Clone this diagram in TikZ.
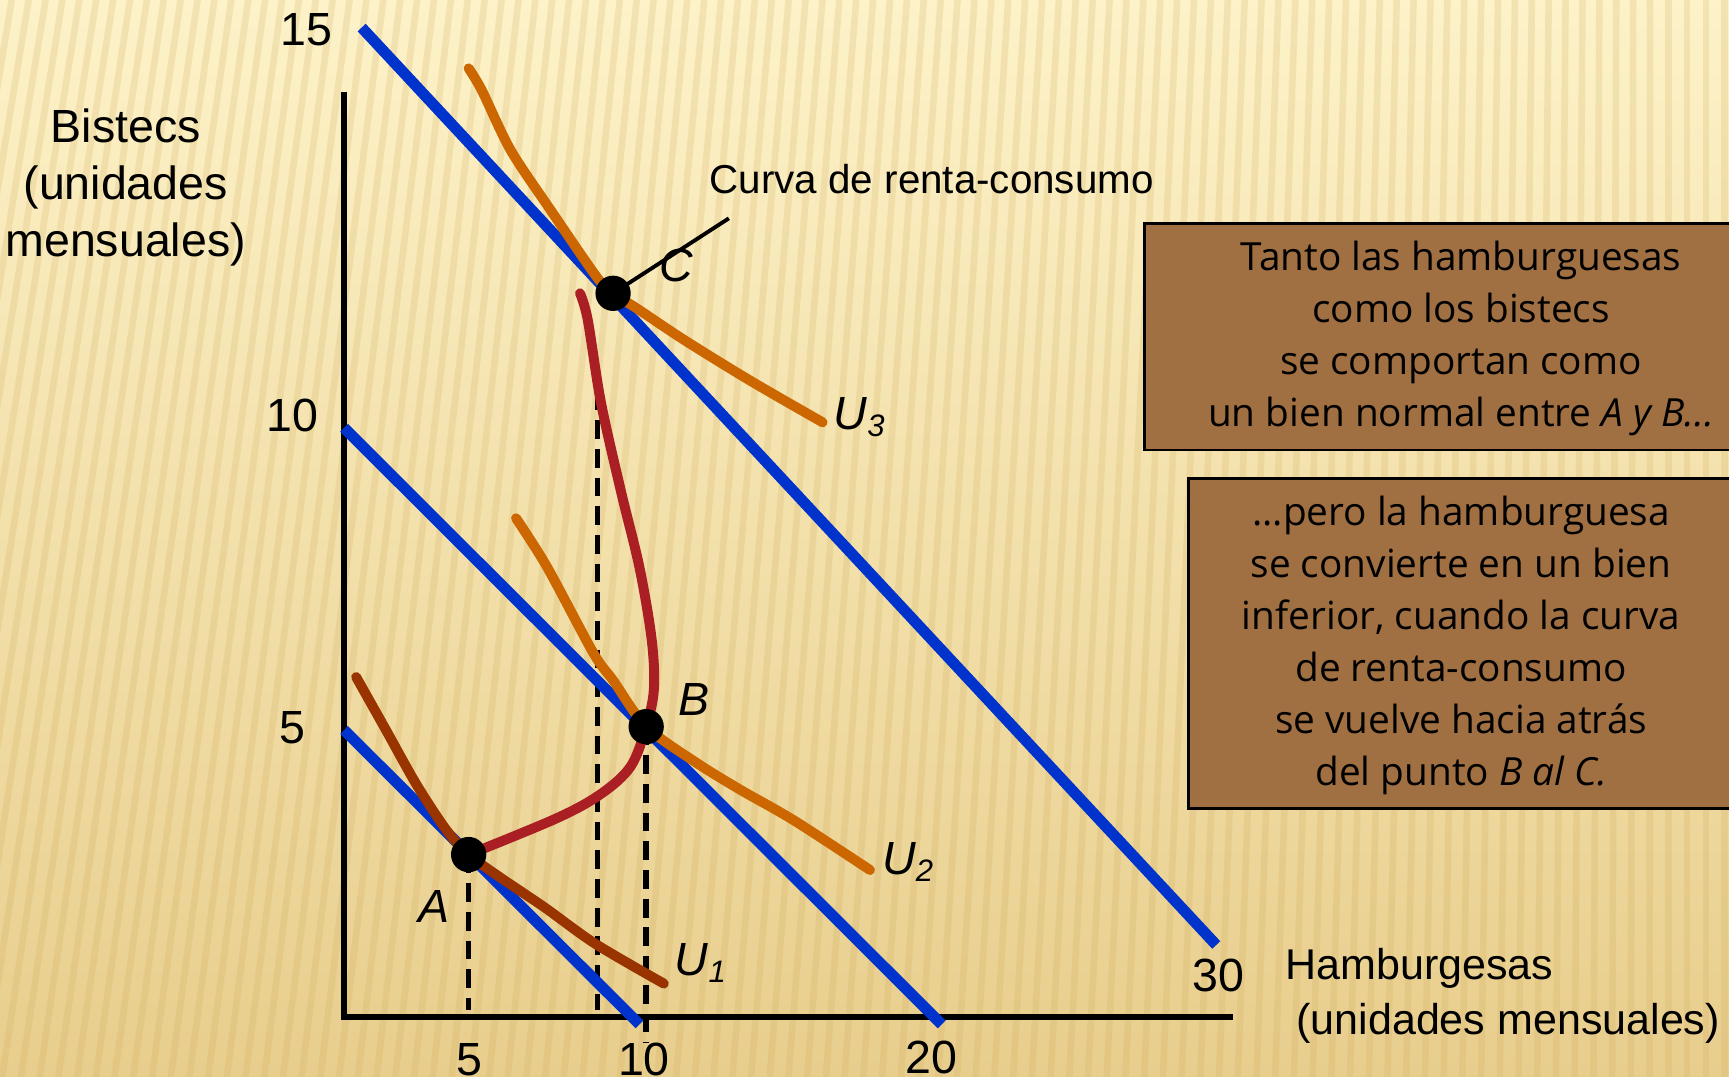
\documentclass[tikz,border=0pt]{standalone}
\usepackage{fontspec}
\setmainfont{Liberation Sans}
\newfontfamily\boxfont{Open Sans}
\definecolor{bgtop}{HTML}{FDF2C8}
\definecolor{bgbot}{HTML}{E8CE8D}
\definecolor{stripecol}{HTML}{C9A24E}
\definecolor{budget}{HTML}{0033CC}
\definecolor{uorange}{HTML}{CC6600}
\definecolor{ubrown}{HTML}{993300}
\definecolor{icc}{HTML}{AA1F24}
\definecolor{boxfill}{HTML}{A06F42}
\begin{document}
\begin{tikzpicture}[x=0.01cm,y=-0.01cm,
  budgetline/.style={budget,line width=0.1cm},
  ucurve/.style={line width=0.09cm,line cap=round,line join=round},
  axisline/.style={black,line width=0.055cm},
  guide/.style={black,line width=0.05cm,dash pattern=on 0.17cm off 0.09cm},
  ptdot/.style={circle,fill=black,inner sep=0pt,minimum size=0.32cm},
  ticklbl/.style={font=\fontsize{12}{14}\selectfont},
  ptlbl/.style={font=\fontsize{12}{14}\selectfont\itshape},
  textbox/.style={draw=black,line width=0.7pt,fill=boxfill,inner sep=0pt},
  boxtext/.style={font=\boxfont\fontsize{10}{13.4}\selectfont,align=center}]
\useasboundingbox (0,0) rectangle (1568,976);
% background
\begin{scope}
\clip (0,0) rectangle (1568,976);
\shade[top color=bgtop,bottom color=bgbot] (0,0) rectangle (1568,976);
\foreach \i in {-12,...,95} {
  \pgfmathsetmacro\xb{\i*17}
  \pgfmathsetmacro\tilt{max(0,150*(1-\xb/1500))}
  \draw[stripecol,opacity=0.18,line width=0.06cm] (\xb,990) -- (\xb+\tilt,-10);
}
\end{scope}

% boxes
\node[textbox,minimum width=5.74cm,minimum height=2.05cm] (box1) at (1325,305.5) {};
\node[boxtext] (t1) at (1325,307) {Tanto las hamburguesas\\como los bistecs\\se comportan como\\un bien normal entre \textit{A y B...}};
\node[textbox,minimum width=4.94cm,minimum height=2.99cm] (box2) at (1325,583.5) {};
\node[boxtext] (t2) at (1325,585) {...pero la hamburguesa\\se convierte en un bien\\inferior, cuando la curva\\de renta-consumo\\se vuelve hacia atrás\\del punto \textit{B al C.}};

% key coordinates
\coordinate (O) at (312,922);
\coordinate (ytop) at (312,83);
\coordinate (xend) at (1118,922);
\coordinate (pA) at (425,775);
\coordinate (pB) at (586,659);
\coordinate (pC) at (556,266);
\coordinate (gA) at (425,916);
\coordinate (gB) at (586,946);
\coordinate (gM) at (542,916);
\coordinate (gMtop) at (542,355);
\coordinate (L1a) at (312,662);
\coordinate (L1b) at (580,929);
\coordinate (L2a) at (312,388);
\coordinate (L2b) at (854,929);
\coordinate (L3a) at (328,25);
\coordinate (L3b) at (1103,857);
\coordinate (ptr) at (661,198);

% dashed guides
\draw[guide] (pA) -- (gA);
\draw[guide] (pB) -- (gB);
\draw[guide] (gMtop) -- (gM);

% axes
\draw[axisline] (ytop) -- (O) -- (xend);

% budget lines
\draw[budgetline] (L1a) -- (L1b);
\draw[budgetline] (L2a) -- (L2b);
\draw[budgetline] (L3a) -- (L3b);

% indifference curves
\draw[ucurve,ubrown] plot[smooth,tension=0.5] coordinates {(323,614) (350,662) (378,712) (405,753) (pA) (454,796) (494,823) (540,856) (602,892)};
\draw[ucurve,uorange] plot[smooth,tension=0.5] coordinates {(468,470) (496,514) (538,592) (556,617) (pB) (632,692) (671,716) (720,744) (789,789)};
\draw[ucurve,uorange] plot[smooth,tension=0.5] coordinates {(425,62) (437,82) (463,136) (499,190) (541,251) (pC) (578,280) (620,308) (680,345) (746,383)};

% income-consumption curve
\draw[ucurve,icc] plot[smooth,tension=0.55] coordinates {(526,266) (533,290) (545,365) (563,445) (580,515) (591,580) (593,625) (pB) (572,695) (545,720) (505,742) (pA)};

% pointer
\draw[black,line width=0.035cm] (pC) -- (ptr);

% points
\node[ptdot] (A) at (pA) {};
\node[ptdot] (B) at (pB) {};
\node[ptdot] (C) at (pC) {};

% labels
\node[ptlbl] (lA) at (394,822) {A};
\node[ptlbl] (lB) at (629,634) {B};
\node[ptlbl] (lC) at (613,241) {C};
\node[ptlbl] (lU1) at (636,873) {U\textsubscript{\textit{1}}};
\node[ptlbl] (lU2) at (824,782) {U\textsubscript{\textit{2}}};
\node[ptlbl] (lU3) at (780,378) {U\textsubscript{\textit{3}}};
\node[font=\fontsize{10.4}{12}\selectfont] (curvalbl) at (845,162) {Curva de renta-consumo};

\node[ticklbl] (y15) at (278,27) {15};
\node[ticklbl] (y10) at (265,377) {10};
\node[ticklbl] (y5) at (265,660) {5};
\node[ticklbl] (x5) at (426,961) {5};
\node[ticklbl] (x10) at (584,961) {10};
\node[ticklbl] (x20) at (845,959) {20};
\node[ticklbl] (x30) at (1105,885) {30};

\node[font=\fontsize{12}{14.8}\selectfont,align=center] (ylab) at (114,170) {Bistecs\\(unidades\\mensuales)};
\node[font=\fontsize{11.1}{13}\selectfont,anchor=west,inner sep=0pt] (xlab1) at (1165,878) {Hamburgesas};
\node[font=\fontsize{11.1}{13}\selectfont,anchor=west,inner sep=0pt] (xlab2) at (1175,928) {(unidades mensuales)};
\end{tikzpicture}
\end{document}
